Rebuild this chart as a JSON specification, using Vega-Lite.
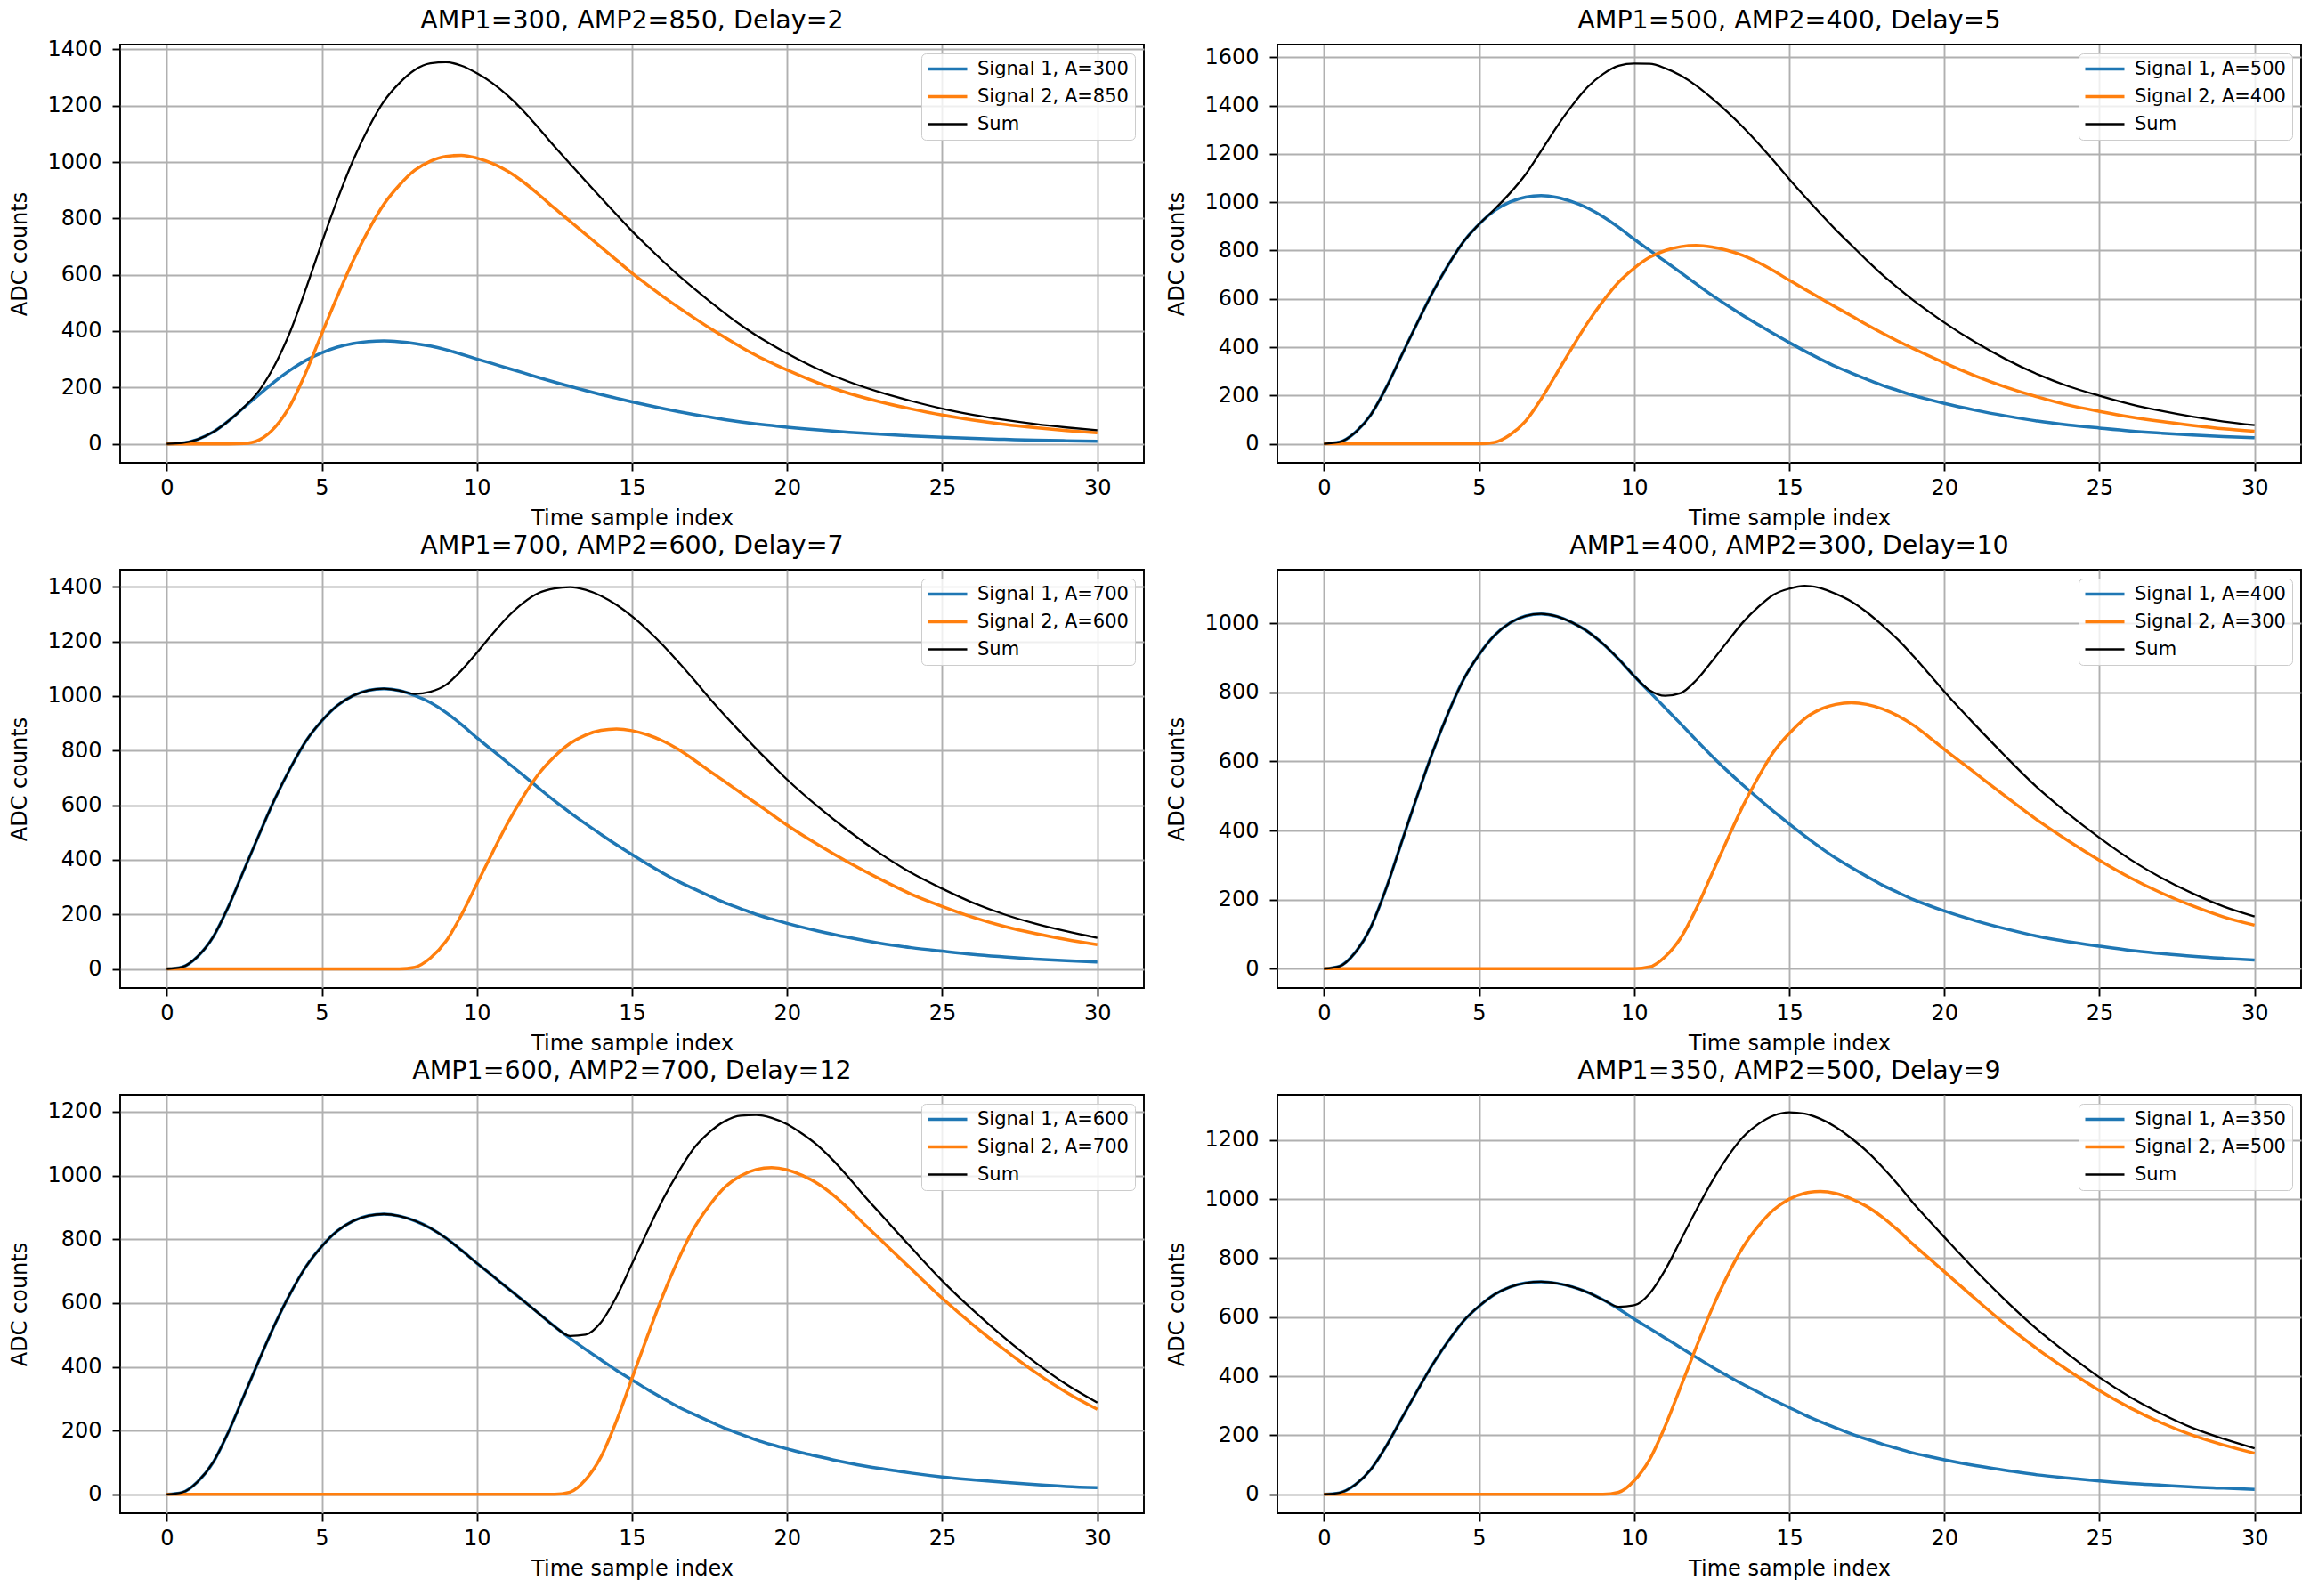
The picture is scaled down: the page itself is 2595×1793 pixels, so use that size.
{
"$schema": "https://vega.github.io/schema/vega-lite/v6.json",
"background": "#ffffff",
"padding": {"left": 9, "top": 7, "right": 5, "bottom": 5},
"columns": 2,
"spacing": {"row": 120, "column": 150},
"bounds": "flush",
"resolve": {"scale": {"color": "independent", "y": "independent"}, "legend": {"color": "independent"}},
"config": {
  "font": "DejaVu Sans",
  "view": {"stroke": "#000000", "strokeWidth": 1.9},
  "axis": {"domain": false, "grid": true, "gridColor": "#b0b0b0", "gridWidth": 1.9, "tickColor": "#000000", "tickWidth": 1.9, "tickSize": 9, "labelFontSize": 24, "labelColor": "#000000", "labelFont": "DejaVu Sans", "titleFontSize": 24, "titleFontWeight": "normal", "titleColor": "#000000", "titleFont": "DejaVu Sans"},
  "axisX": {"labelPadding": 7, "titlePadding": 10, "labelFlush": false},
  "axisY": {"labelPadding": 12, "titlePadding": 18, "format": "d"},
  "title": {"fontSize": 28.5, "fontWeight": "normal", "color": "#000000", "font": "DejaVu Sans", "anchor": "middle", "offset": 13},
  "legend": {"orient": "top-right", "offset": 10, "labelFontSize": 21, "labelColor": "#000000", "labelFont": "DejaVu Sans", "symbolType": "M-2.2,0H2.2", "symbolSize": 400, "symbolStrokeWidth": 3.5, "symbolOffset": 12, "labelOffset": 23, "padding": 7, "rowPadding": 9, "fillColor": "rgba(255,255,255,0.8)", "strokeColor": "#cccccc", "cornerRadius": 5, "labelLimit": 400}
},
"datasets": {"d": [
{"p":1,"t":0,"a":0,"b":0,"c":0},{"p":1,"t":0.5,"a":3,"b":0,"c":3},{"p":1,"t":1,"a":16,"b":0,"c":16},{"p":1,"t":1.5,"a":42,"b":0,"c":42},{"p":1,"t":2,"a":82,"b":0,"c":82},{"p":1,"t":2.5,"a":130,"b":1,"c":131},{"p":1,"t":3,"a":177,"b":15,"c":192},{"p":1,"t":3.5,"a":223,"b":60,"c":283},{"p":1,"t":4,"a":263,"b":140,"c":403},{"p":1,"t":4.5,"a":297,"b":257,"c":554},{"p":1,"t":5,"a":323,"b":391,"c":714},{"p":1,"t":5.5,"a":343,"b":523,"c":866},{"p":1,"t":6,"a":356,"b":648,"c":1004},{"p":1,"t":6.5,"a":363,"b":757,"c":1120},{"p":1,"t":7,"a":365,"b":850,"c":1215},{"p":1,"t":7.5,"a":362,"b":918,"c":1280},{"p":1,"t":8,"a":356,"b":971,"c":1327},{"p":1,"t":8.5,"a":347,"b":1003,"c":1350},{"p":1,"t":9,"a":334,"b":1020,"c":1354},{"p":1,"t":9.5,"a":318,"b":1024,"c":1342},{"p":1,"t":10,"a":301,"b":1014,"c":1315},{"p":1,"t":10.5,"a":285,"b":995,"c":1280},{"p":1,"t":11,"a":268,"b":967,"c":1235},{"p":1,"t":11.5,"a":252,"b":929,"c":1181},{"p":1,"t":12,"a":235,"b":884,"c":1119},{"p":1,"t":12.5,"a":219,"b":836,"c":1055},{"p":1,"t":13,"a":204,"b":790,"c":994},{"p":1,"t":13.5,"a":189,"b":744,"c":933},{"p":1,"t":14,"a":175,"b":698,"c":873},{"p":1,"t":14.5,"a":162,"b":652,"c":814},{"p":1,"t":15,"a":149,"b":606,"c":755},{"p":1,"t":15.5,"a":137,"b":564,"c":701},{"p":1,"t":16,"a":125,"b":523,"c":648},{"p":1,"t":16.5,"a":114,"b":484,"c":598},{"p":1,"t":17,"a":104,"b":447,"c":551},{"p":1,"t":17.5,"a":95,"b":411,"c":506},{"p":1,"t":18,"a":86,"b":377,"c":463},{"p":1,"t":18.5,"a":78,"b":344,"c":422},{"p":1,"t":19,"a":71,"b":314,"c":385},{"p":1,"t":19.5,"a":65,"b":287,"c":352},{"p":1,"t":20,"a":59,"b":262,"c":321},{"p":1,"t":21,"a":49,"b":216,"c":265},{"p":1,"t":22,"a":41,"b":179,"c":220},{"p":1,"t":23,"a":34,"b":149,"c":183},{"p":1,"t":24,"a":28,"b":124,"c":152},{"p":1,"t":25,"a":23,"b":102,"c":125},{"p":1,"t":26,"a":19,"b":84,"c":103},{"p":1,"t":27,"a":16,"b":69,"c":85},{"p":1,"t":28,"a":13,"b":57,"c":70},{"p":1,"t":29,"a":11,"b":47,"c":58},{"p":1,"t":30,"a":9,"b":39,"c":48},
{"p":2,"t":0,"a":0,"b":0,"c":0},{"p":2,"t":0.5,"a":7,"b":0,"c":7},{"p":2,"t":1,"a":46,"b":0,"c":46},{"p":2,"t":1.5,"a":118,"b":0,"c":118},{"p":2,"t":2,"a":231,"b":0,"c":231},{"p":2,"t":2.5,"a":365,"b":0,"c":365},{"p":2,"t":3,"a":498,"b":0,"c":498},{"p":2,"t":3.5,"a":626,"b":0,"c":626},{"p":2,"t":4,"a":739,"b":0,"c":739},{"p":2,"t":4.5,"a":837,"b":0,"c":837},{"p":2,"t":5,"a":909,"b":0,"c":909},{"p":2,"t":5.5,"a":965,"b":6,"c":971},{"p":2,"t":6,"a":1001,"b":37,"c":1038},{"p":2,"t":6.5,"a":1021,"b":94,"c":1115},{"p":2,"t":7,"a":1027,"b":185,"c":1212},{"p":2,"t":7.5,"a":1020,"b":291,"c":1311},{"p":2,"t":8,"a":1002,"b":398,"c":1400},{"p":2,"t":8.5,"a":976,"b":501,"c":1477},{"p":2,"t":9,"a":940,"b":591,"c":1531},{"p":2,"t":9.5,"a":896,"b":669,"c":1565},{"p":2,"t":10,"a":847,"b":727,"c":1574},{"p":2,"t":10.5,"a":801,"b":772,"c":1573},{"p":2,"t":11,"a":755,"b":800,"c":1555},{"p":2,"t":11.5,"a":709,"b":816,"c":1525},{"p":2,"t":12,"a":662,"b":821,"c":1483},{"p":2,"t":12.5,"a":616,"b":815,"c":1431},{"p":2,"t":13,"a":573,"b":801,"c":1374},{"p":2,"t":13.5,"a":532,"b":780,"c":1312},{"p":2,"t":14,"a":493,"b":751,"c":1244},{"p":2,"t":14.5,"a":455,"b":716,"c":1171},{"p":2,"t":15,"a":419,"b":677,"c":1096},{"p":2,"t":15.5,"a":384,"b":640,"c":1024},{"p":2,"t":16,"a":351,"b":603,"c":954},{"p":2,"t":16.5,"a":320,"b":566,"c":886},{"p":2,"t":17,"a":293,"b":530,"c":823},{"p":2,"t":17.5,"a":267,"b":493,"c":760},{"p":2,"t":18,"a":242,"b":458,"c":700},{"p":2,"t":18.5,"a":221,"b":425,"c":646},{"p":2,"t":19,"a":200,"b":394,"c":594},{"p":2,"t":19.5,"a":183,"b":364,"c":547},{"p":2,"t":20,"a":167,"b":335,"c":502},{"p":2,"t":21,"a":139,"b":281,"c":420},{"p":2,"t":22,"a":115,"b":234,"c":349},{"p":2,"t":23,"a":94,"b":194,"c":288},{"p":2,"t":24,"a":78,"b":160,"c":238},{"p":2,"t":25,"a":65,"b":134,"c":199},{"p":2,"t":26,"a":53,"b":111,"c":164},{"p":2,"t":27,"a":44,"b":92,"c":136},{"p":2,"t":28,"a":36,"b":76,"c":112},{"p":2,"t":29,"a":30,"b":62,"c":92},{"p":2,"t":30,"a":25,"b":52,"c":77},
{"p":3,"t":0,"a":0,"b":0,"c":0},{"p":3,"t":0.5,"a":7,"b":0,"c":7},{"p":3,"t":1,"a":46,"b":0,"c":46},{"p":3,"t":1.5,"a":118,"b":0,"c":118},{"p":3,"t":2,"a":231,"b":0,"c":231},{"p":3,"t":2.5,"a":365,"b":0,"c":365},{"p":3,"t":3,"a":498,"b":0,"c":498},{"p":3,"t":3.5,"a":626,"b":0,"c":626},{"p":3,"t":4,"a":739,"b":0,"c":739},{"p":3,"t":4.5,"a":837,"b":0,"c":837},{"p":3,"t":5,"a":909,"b":0,"c":909},{"p":3,"t":5.5,"a":965,"b":0,"c":965},{"p":3,"t":6,"a":1001,"b":0,"c":1001},{"p":3,"t":6.5,"a":1021,"b":0,"c":1021},{"p":3,"t":7,"a":1027,"b":0,"c":1027},{"p":3,"t":7.5,"a":1020,"b":0,"c":1020},{"p":3,"t":8,"a":1002,"b":6,"c":1008},{"p":3,"t":8.5,"a":976,"b":40,"c":1016},{"p":3,"t":9,"a":940,"b":101,"c":1041},{"p":3,"t":9.5,"a":896,"b":198,"c":1094},{"p":3,"t":10,"a":847,"b":312,"c":1159},{"p":3,"t":10.5,"a":801,"b":426,"c":1227},{"p":3,"t":11,"a":755,"b":536,"c":1291},{"p":3,"t":11.5,"a":709,"b":633,"c":1342},{"p":3,"t":12,"a":662,"b":716,"c":1378},{"p":3,"t":12.5,"a":616,"b":778,"c":1394},{"p":3,"t":13,"a":573,"b":826,"c":1399},{"p":3,"t":13.5,"a":532,"b":857,"c":1389},{"p":3,"t":14,"a":493,"b":874,"c":1367},{"p":3,"t":14.5,"a":455,"b":879,"c":1334},{"p":3,"t":15,"a":419,"b":873,"c":1292},{"p":3,"t":15.5,"a":384,"b":858,"c":1242},{"p":3,"t":16,"a":351,"b":835,"c":1186},{"p":3,"t":16.5,"a":320,"b":804,"c":1124},{"p":3,"t":17,"a":293,"b":766,"c":1059},{"p":3,"t":17.5,"a":267,"b":725,"c":992},{"p":3,"t":18,"a":242,"b":686,"c":928},{"p":3,"t":18.5,"a":221,"b":646,"c":867},{"p":3,"t":19,"a":200,"b":607,"c":807},{"p":3,"t":19.5,"a":183,"b":567,"c":750},{"p":3,"t":20,"a":167,"b":527,"c":694},{"p":3,"t":21,"a":139,"b":455,"c":594},{"p":3,"t":22,"a":115,"b":389,"c":504},{"p":3,"t":23,"a":94,"b":329,"c":423},{"p":3,"t":24,"a":78,"b":274,"c":352},{"p":3,"t":25,"a":65,"b":229,"c":294},{"p":3,"t":26,"a":53,"b":189,"c":242},{"p":3,"t":27,"a":44,"b":156,"c":200},{"p":3,"t":28,"a":36,"b":130,"c":166},{"p":3,"t":29,"a":30,"b":108,"c":138},{"p":3,"t":30,"a":25,"b":89,"c":114},
{"p":4,"t":0,"a":0,"b":0,"c":0},{"p":4,"t":0.5,"a":7,"b":0,"c":7},{"p":4,"t":1,"a":46,"b":0,"c":46},{"p":4,"t":1.5,"a":118,"b":0,"c":118},{"p":4,"t":2,"a":231,"b":0,"c":231},{"p":4,"t":2.5,"a":365,"b":0,"c":365},{"p":4,"t":3,"a":498,"b":0,"c":498},{"p":4,"t":3.5,"a":626,"b":0,"c":626},{"p":4,"t":4,"a":739,"b":0,"c":739},{"p":4,"t":4.5,"a":837,"b":0,"c":837},{"p":4,"t":5,"a":909,"b":0,"c":909},{"p":4,"t":5.5,"a":965,"b":0,"c":965},{"p":4,"t":6,"a":1001,"b":0,"c":1001},{"p":4,"t":6.5,"a":1021,"b":0,"c":1021},{"p":4,"t":7,"a":1027,"b":0,"c":1027},{"p":4,"t":7.5,"a":1020,"b":0,"c":1020},{"p":4,"t":8,"a":1002,"b":0,"c":1002},{"p":4,"t":8.5,"a":976,"b":0,"c":976},{"p":4,"t":9,"a":940,"b":0,"c":940},{"p":4,"t":9.5,"a":896,"b":0,"c":896},{"p":4,"t":10,"a":847,"b":0,"c":847},{"p":4,"t":10.5,"a":801,"b":5,"c":806},{"p":4,"t":11,"a":755,"b":35,"c":790},{"p":4,"t":11.5,"a":709,"b":89,"c":798},{"p":4,"t":12,"a":662,"b":173,"c":835},{"p":4,"t":12.5,"a":616,"b":273,"c":889},{"p":4,"t":13,"a":573,"b":373,"c":946},{"p":4,"t":13.5,"a":532,"b":470,"c":1002},{"p":4,"t":14,"a":493,"b":554,"c":1047},{"p":4,"t":14.5,"a":455,"b":628,"c":1083},{"p":4,"t":15,"a":419,"b":681,"c":1100},{"p":4,"t":15.5,"a":384,"b":724,"c":1108},{"p":4,"t":16,"a":351,"b":751,"c":1102},{"p":4,"t":16.5,"a":320,"b":765,"c":1085},{"p":4,"t":17,"a":293,"b":770,"c":1063},{"p":4,"t":17.5,"a":267,"b":765,"c":1032},{"p":4,"t":18,"a":242,"b":752,"c":994},{"p":4,"t":18.5,"a":221,"b":732,"c":953},{"p":4,"t":19,"a":200,"b":705,"c":905},{"p":4,"t":19.5,"a":183,"b":671,"c":854},{"p":4,"t":20,"a":167,"b":635,"c":802},{"p":4,"t":21,"a":139,"b":566,"c":705},{"p":4,"t":22,"a":115,"b":497,"c":612},{"p":4,"t":23,"a":94,"b":430,"c":524},{"p":4,"t":24,"a":78,"b":370,"c":448},{"p":4,"t":25,"a":65,"b":314,"c":379},{"p":4,"t":26,"a":53,"b":263,"c":316},{"p":4,"t":27,"a":44,"b":219,"c":263},{"p":4,"t":28,"a":36,"b":182,"c":218},{"p":4,"t":29,"a":30,"b":150,"c":180},{"p":4,"t":30,"a":25,"b":126,"c":151},
{"p":5,"t":0,"a":0,"b":0,"c":0},{"p":5,"t":0.5,"a":6,"b":0,"c":6},{"p":5,"t":1,"a":40,"b":0,"c":40},{"p":5,"t":1.5,"a":101,"b":0,"c":101},{"p":5,"t":2,"a":198,"b":0,"c":198},{"p":5,"t":2.5,"a":312,"b":0,"c":312},{"p":5,"t":3,"a":426,"b":0,"c":426},{"p":5,"t":3.5,"a":536,"b":0,"c":536},{"p":5,"t":4,"a":633,"b":0,"c":633},{"p":5,"t":4.5,"a":716,"b":0,"c":716},{"p":5,"t":5,"a":778,"b":0,"c":778},{"p":5,"t":5.5,"a":826,"b":0,"c":826},{"p":5,"t":6,"a":857,"b":0,"c":857},{"p":5,"t":6.5,"a":874,"b":0,"c":874},{"p":5,"t":7,"a":879,"b":0,"c":879},{"p":5,"t":7.5,"a":873,"b":0,"c":873},{"p":5,"t":8,"a":858,"b":0,"c":858},{"p":5,"t":8.5,"a":835,"b":0,"c":835},{"p":5,"t":9,"a":804,"b":0,"c":804},{"p":5,"t":9.5,"a":766,"b":0,"c":766},{"p":5,"t":10,"a":725,"b":0,"c":725},{"p":5,"t":10.5,"a":686,"b":0,"c":686},{"p":5,"t":11,"a":646,"b":0,"c":646},{"p":5,"t":11.5,"a":607,"b":0,"c":607},{"p":5,"t":12,"a":567,"b":0,"c":567},{"p":5,"t":12.5,"a":527,"b":0,"c":527},{"p":5,"t":13,"a":490,"b":7,"c":497},{"p":5,"t":13.5,"a":455,"b":46,"c":501},{"p":5,"t":14,"a":422,"b":118,"c":540},{"p":5,"t":14.5,"a":389,"b":231,"c":620},{"p":5,"t":15,"a":359,"b":364,"c":723},{"p":5,"t":15.5,"a":329,"b":497,"c":826},{"p":5,"t":16,"a":301,"b":625,"c":926},{"p":5,"t":16.5,"a":274,"b":738,"c":1012},{"p":5,"t":17,"a":251,"b":835,"c":1086},{"p":5,"t":17.5,"a":229,"b":907,"c":1136},{"p":5,"t":18,"a":207,"b":964,"c":1171},{"p":5,"t":18.5,"a":189,"b":999,"c":1188},{"p":5,"t":19,"a":171,"b":1019,"c":1190},{"p":5,"t":19.5,"a":156,"b":1025,"c":1181},{"p":5,"t":20,"a":143,"b":1018,"c":1161},{"p":5,"t":20.5,"a":130,"b":1000,"c":1130},{"p":5,"t":21,"a":119,"b":974,"c":1093},{"p":5,"t":21.5,"a":108,"b":938,"c":1046},{"p":5,"t":22,"a":98,"b":894,"c":992},{"p":5,"t":22.5,"a":89,"b":846,"c":935},{"p":5,"t":23,"a":81,"b":800,"c":881},{"p":5,"t":23.5,"a":74,"b":753,"c":827},{"p":5,"t":24,"a":67,"b":707,"c":774},{"p":5,"t":25,"a":55,"b":615,"c":670},{"p":5,"t":26,"a":46,"b":531,"c":577},{"p":5,"t":27,"a":38,"b":454,"c":492},{"p":5,"t":28,"a":31,"b":383,"c":414},{"p":5,"t":29,"a":25,"b":320,"c":345},{"p":5,"t":30,"a":21,"b":267,"c":288},
{"p":6,"t":0,"a":0,"b":0,"c":0},{"p":6,"t":0.5,"a":5,"b":0,"c":5},{"p":6,"t":1,"a":32,"b":0,"c":32},{"p":6,"t":1.5,"a":83,"b":0,"c":83},{"p":6,"t":2,"a":162,"b":0,"c":162},{"p":6,"t":2.5,"a":256,"b":0,"c":256},{"p":6,"t":3,"a":349,"b":0,"c":349},{"p":6,"t":3.5,"a":439,"b":0,"c":439},{"p":6,"t":4,"a":518,"b":0,"c":518},{"p":6,"t":4.5,"a":587,"b":0,"c":587},{"p":6,"t":5,"a":637,"b":0,"c":637},{"p":6,"t":5.5,"a":677,"b":0,"c":677},{"p":6,"t":6,"a":702,"b":0,"c":702},{"p":6,"t":6.5,"a":716,"b":0,"c":716},{"p":6,"t":7,"a":720,"b":0,"c":720},{"p":6,"t":7.5,"a":715,"b":0,"c":715},{"p":6,"t":8,"a":703,"b":0,"c":703},{"p":6,"t":8.5,"a":684,"b":0,"c":684},{"p":6,"t":9,"a":659,"b":0,"c":659},{"p":6,"t":9.5,"a":628,"b":7,"c":635},{"p":6,"t":10,"a":594,"b":46,"c":640},{"p":6,"t":10.5,"a":562,"b":118,"c":680},{"p":6,"t":11,"a":529,"b":231,"c":760},{"p":6,"t":11.5,"a":497,"b":364,"c":861},{"p":6,"t":12,"a":464,"b":498,"c":962},{"p":6,"t":12.5,"a":432,"b":626,"c":1058},{"p":6,"t":13,"a":402,"b":739,"c":1141},{"p":6,"t":13.5,"a":373,"b":836,"c":1209},{"p":6,"t":14,"a":346,"b":908,"c":1254},{"p":6,"t":14.5,"a":319,"b":964,"c":1283},{"p":6,"t":15,"a":294,"b":1000,"c":1294},{"p":6,"t":15.5,"a":269,"b":1020,"c":1289},{"p":6,"t":16,"a":246,"b":1026,"c":1272},{"p":6,"t":16.5,"a":225,"b":1019,"c":1244},{"p":6,"t":17,"a":205,"b":1001,"c":1206},{"p":6,"t":17.5,"a":187,"b":975,"c":1162},{"p":6,"t":18,"a":170,"b":939,"c":1109},{"p":6,"t":18.5,"a":155,"b":895,"c":1050},{"p":6,"t":19,"a":140,"b":846,"c":986},{"p":6,"t":19.5,"a":128,"b":800,"c":928},{"p":6,"t":20,"a":117,"b":754,"c":871},{"p":6,"t":21,"a":97,"b":662,"c":759},{"p":6,"t":22,"a":81,"b":573,"c":654},{"p":6,"t":23,"a":66,"b":492,"c":558},{"p":6,"t":24,"a":55,"b":419,"c":474},{"p":6,"t":25,"a":45,"b":351,"c":396},{"p":6,"t":26,"a":37,"b":292,"c":329},{"p":6,"t":27,"a":31,"b":242,"c":273},{"p":6,"t":28,"a":25,"b":200,"c":225},{"p":6,"t":29,"a":21,"b":167,"c":188},{"p":6,"t":30,"a":17,"b":139,"c":156}
]},
"data": {"name": "d"},
"concat": [
{"title": {"text": "AMP1=300, AMP2=850, Delay=2", "offset": 6}, "width": 1150, "height": 470,
 "transform": [{"filter": "datum.p == 1"}, {"fold": ["a", "b", "c"], "as": ["s", "v"]}],
 "mark": {"type": "line", "interpolate": "monotone", "clip": true},
 "encoding": {
  "x": {"field": "t", "type": "quantitative", "scale": {"domain": [-1.5, 31.5], "nice": false, "zero": false}, "axis": {"values": [0, 5, 10, 15, 20, 25, 30], "title": "Time sample index"}},
  "y": {"field": "v", "type": "quantitative", "scale": {"domain": [-67.5, 1417], "nice": false, "zero": false}, "axis": {"values": [0, 200, 400, 600, 800, 1000, 1200, 1400], "title": "ADC counts"}},
  "color": {"field": "s", "type": "nominal", "scale": {"domain": ["a", "b", "c"], "range": ["#1f77b4", "#ff7f0e", "#000000"]}, "legend": {"title": null, "labelExpr": "datum.value == 'a' ? 'Signal 1, A=300' : datum.value == 'b' ? 'Signal 2, A=850' : 'Sum'", "encode": {"symbols": {"update": {"strokeWidth": {"signal": "datum.value == 'c' ? 2.3 : 3.5"}}}}}},
  "strokeWidth": {"condition": {"test": "datum.s == 'c'", "value": 2.3}, "value": 3.5}
 }},
{"title": "AMP1=500, AMP2=400, Delay=5", "width": 1150, "height": 470,
 "transform": [{"filter": "datum.p == 2"}, {"fold": ["a", "b", "c"], "as": ["s", "v"]}],
 "mark": {"type": "line", "interpolate": "monotone", "clip": true},
 "encoding": {
  "x": {"field": "t", "type": "quantitative", "scale": {"domain": [-1.5, 31.5], "nice": false, "zero": false}, "axis": {"values": [0, 5, 10, 15, 20, 25, 30], "title": "Time sample index"}},
  "y": {"field": "v", "type": "quantitative", "scale": {"domain": [-79, 1653], "nice": false, "zero": false}, "axis": {"values": [0, 200, 400, 600, 800, 1000, 1200, 1400, 1600], "title": "ADC counts"}},
  "color": {"field": "s", "type": "nominal", "scale": {"domain": ["a", "b", "c"], "range": ["#1f77b4", "#ff7f0e", "#000000"]}, "legend": {"title": null, "labelExpr": "datum.value == 'a' ? 'Signal 1, A=500' : datum.value == 'b' ? 'Signal 2, A=400' : 'Sum'", "encode": {"symbols": {"update": {"strokeWidth": {"signal": "datum.value == 'c' ? 2.3 : 3.5"}}}}}},
  "strokeWidth": {"condition": {"test": "datum.s == 'c'", "value": 2.3}, "value": 3.5}
 }},
{"title": "AMP1=700, AMP2=600, Delay=7", "width": 1150, "height": 470,
 "transform": [{"filter": "datum.p == 3"}, {"fold": ["a", "b", "c"], "as": ["s", "v"]}],
 "mark": {"type": "line", "interpolate": "monotone", "clip": true},
 "encoding": {
  "x": {"field": "t", "type": "quantitative", "scale": {"domain": [-1.5, 31.5], "nice": false, "zero": false}, "axis": {"values": [0, 5, 10, 15, 20, 25, 30], "title": "Time sample index"}},
  "y": {"field": "v", "type": "quantitative", "scale": {"domain": [-70, 1463], "nice": false, "zero": false}, "axis": {"values": [0, 200, 400, 600, 800, 1000, 1200, 1400], "title": "ADC counts"}},
  "color": {"field": "s", "type": "nominal", "scale": {"domain": ["a", "b", "c"], "range": ["#1f77b4", "#ff7f0e", "#000000"]}, "legend": {"title": null, "labelExpr": "datum.value == 'a' ? 'Signal 1, A=700' : datum.value == 'b' ? 'Signal 2, A=600' : 'Sum'", "encode": {"symbols": {"update": {"strokeWidth": {"signal": "datum.value == 'c' ? 2.3 : 3.5"}}}}}},
  "strokeWidth": {"condition": {"test": "datum.s == 'c'", "value": 2.3}, "value": 3.5}
 }},
{"title": "AMP1=400, AMP2=300, Delay=10", "width": 1150, "height": 470,
 "transform": [{"filter": "datum.p == 4"}, {"fold": ["a", "b", "c"], "as": ["s", "v"]}],
 "mark": {"type": "line", "interpolate": "monotone", "clip": true},
 "encoding": {
  "x": {"field": "t", "type": "quantitative", "scale": {"domain": [-1.5, 31.5], "nice": false, "zero": false}, "axis": {"values": [0, 5, 10, 15, 20, 25, 30], "title": "Time sample index"}},
  "y": {"field": "v", "type": "quantitative", "scale": {"domain": [-56, 1155], "nice": false, "zero": false}, "axis": {"values": [0, 200, 400, 600, 800, 1000], "title": "ADC counts"}},
  "color": {"field": "s", "type": "nominal", "scale": {"domain": ["a", "b", "c"], "range": ["#1f77b4", "#ff7f0e", "#000000"]}, "legend": {"title": null, "labelExpr": "datum.value == 'a' ? 'Signal 1, A=400' : datum.value == 'b' ? 'Signal 2, A=300' : 'Sum'", "encode": {"symbols": {"update": {"strokeWidth": {"signal": "datum.value == 'c' ? 2.3 : 3.5"}}}}}},
  "strokeWidth": {"condition": {"test": "datum.s == 'c'", "value": 2.3}, "value": 3.5}
 }},
{"title": "AMP1=600, AMP2=700, Delay=12", "width": 1150, "height": 470,
 "transform": [{"filter": "datum.p == 5"}, {"fold": ["a", "b", "c"], "as": ["s", "v"]}],
 "mark": {"type": "line", "interpolate": "monotone", "clip": true},
 "encoding": {
  "x": {"field": "t", "type": "quantitative", "scale": {"domain": [-1.5, 31.5], "nice": false, "zero": false}, "axis": {"values": [0, 5, 10, 15, 20, 25, 30], "title": "Time sample index"}},
  "y": {"field": "v", "type": "quantitative", "scale": {"domain": [-59, 1253], "nice": false, "zero": false}, "axis": {"values": [0, 200, 400, 600, 800, 1000, 1200], "title": "ADC counts"}},
  "color": {"field": "s", "type": "nominal", "scale": {"domain": ["a", "b", "c"], "range": ["#1f77b4", "#ff7f0e", "#000000"]}, "legend": {"title": null, "labelExpr": "datum.value == 'a' ? 'Signal 1, A=600' : datum.value == 'b' ? 'Signal 2, A=700' : 'Sum'", "encode": {"symbols": {"update": {"strokeWidth": {"signal": "datum.value == 'c' ? 2.3 : 3.5"}}}}}},
  "strokeWidth": {"condition": {"test": "datum.s == 'c'", "value": 2.3}, "value": 3.5}
 }},
{"title": "AMP1=350, AMP2=500, Delay=9", "width": 1150, "height": 470,
 "transform": [{"filter": "datum.p == 6"}, {"fold": ["a", "b", "c"], "as": ["s", "v"]}],
 "mark": {"type": "line", "interpolate": "monotone", "clip": true},
 "encoding": {
  "x": {"field": "t", "type": "quantitative", "scale": {"domain": [-1.5, 31.5], "nice": false, "zero": false}, "axis": {"values": [0, 5, 10, 15, 20, 25, 30], "title": "Time sample index"}},
  "y": {"field": "v", "type": "quantitative", "scale": {"domain": [-64, 1353], "nice": false, "zero": false}, "axis": {"values": [0, 200, 400, 600, 800, 1000, 1200], "title": "ADC counts"}},
  "color": {"field": "s", "type": "nominal", "scale": {"domain": ["a", "b", "c"], "range": ["#1f77b4", "#ff7f0e", "#000000"]}, "legend": {"title": null, "labelExpr": "datum.value == 'a' ? 'Signal 1, A=350' : datum.value == 'b' ? 'Signal 2, A=500' : 'Sum'", "encode": {"symbols": {"update": {"strokeWidth": {"signal": "datum.value == 'c' ? 2.3 : 3.5"}}}}}},
  "strokeWidth": {"condition": {"test": "datum.s == 'c'", "value": 2.3}, "value": 3.5}
 }}
]
}
